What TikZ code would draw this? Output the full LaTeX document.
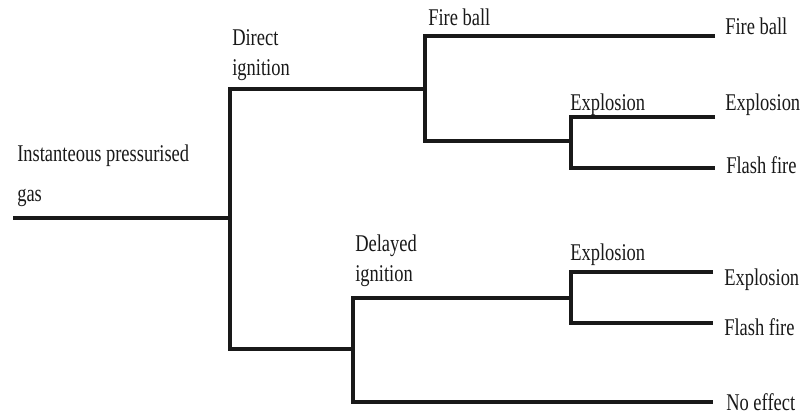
\documentclass[tikz,border=0pt]{standalone}
\usepackage{fontspec}
\newfontfamily\lblfont[FakeStretch=0.77]{Liberation Serif}
\begin{document}
\begin{tikzpicture}[x=0.75pt,y=-0.75pt,
  branch/.style={line width=2.3pt,line join=miter,draw=black!90},
  lbl/.style={inner sep=0pt,anchor=base west,align=left,text=black!90,
    font=\lblfont\fontsize{18}{22.5}\selectfont}]
\useasboundingbox (0,0) rectangle (803,419);

% junction and end points of the event tree
\coordinate (s0) at (13,218);
\coordinate (j1) at (230,218);
\coordinate (j1t) at (230,89);
\coordinate (j1b) at (230,349);
\coordinate (j2) at (425,89);
\coordinate (j2t) at (425,36);
\coordinate (j2b) at (425,141);
\coordinate (e1) at (715,36);
\coordinate (j3) at (571,141);
\coordinate (j3t) at (571,117);
\coordinate (j3b) at (571,168);
\coordinate (e2) at (715,117);
\coordinate (e3) at (715,168);
\coordinate (j4) at (353,349);
\coordinate (j4t) at (353,298);
\coordinate (j4b) at (353,402);
\coordinate (j5) at (571,298);
\coordinate (j5t) at (571,272);
\coordinate (j5b) at (571,323);
\coordinate (e4) at (713,272);
\coordinate (e5) at (713,323);
\coordinate (e6) at (713,402);

% branches
\draw[branch] (s0) -- (j1);
\draw[branch] (j2) -- (j1t) -- (j1b) -- (j4);
\draw[branch] (e1) -- (j2t) -- (j2b) -- (j3);
\draw[branch] (e2) -- (j3t) -- (j3b) -- (e3);
\draw[branch] (j5) -- (j4t) -- (j4b) -- (e6);
\draw[branch] (e4) -- (j5t) -- (j5b) -- (e5);

% labels (multi-line labels sit on the baseline of their last line)
\node[lbl] (lroot) at (17,201) {Instanteous pressurised\\[7.5pt]gas};
\node[lbl] (ldirect) at (232,75) {Direct\\ignition};
\node[lbl] (lfire) at (428,25) {Fire ball};
\node[lbl] (lexp1) at (570,110) {Explosion};
\node[lbl] (ldelay) at (355,281) {Delayed\\ignition};
\node[lbl] (lexp2) at (570,260) {Explosion};
\node[lbl] (o1) at (725,34) {Fire ball};
\node[lbl] (o2) at (725,110) {Explosion};
\node[lbl] (o3) at (726,173) {Flash fire};
\node[lbl] (o4) at (724,285) {Explosion};
\node[lbl] (o5) at (724,335) {Flash fire};
\node[lbl] (o6) at (726,410) {No effect};
\end{tikzpicture}
\end{document}
